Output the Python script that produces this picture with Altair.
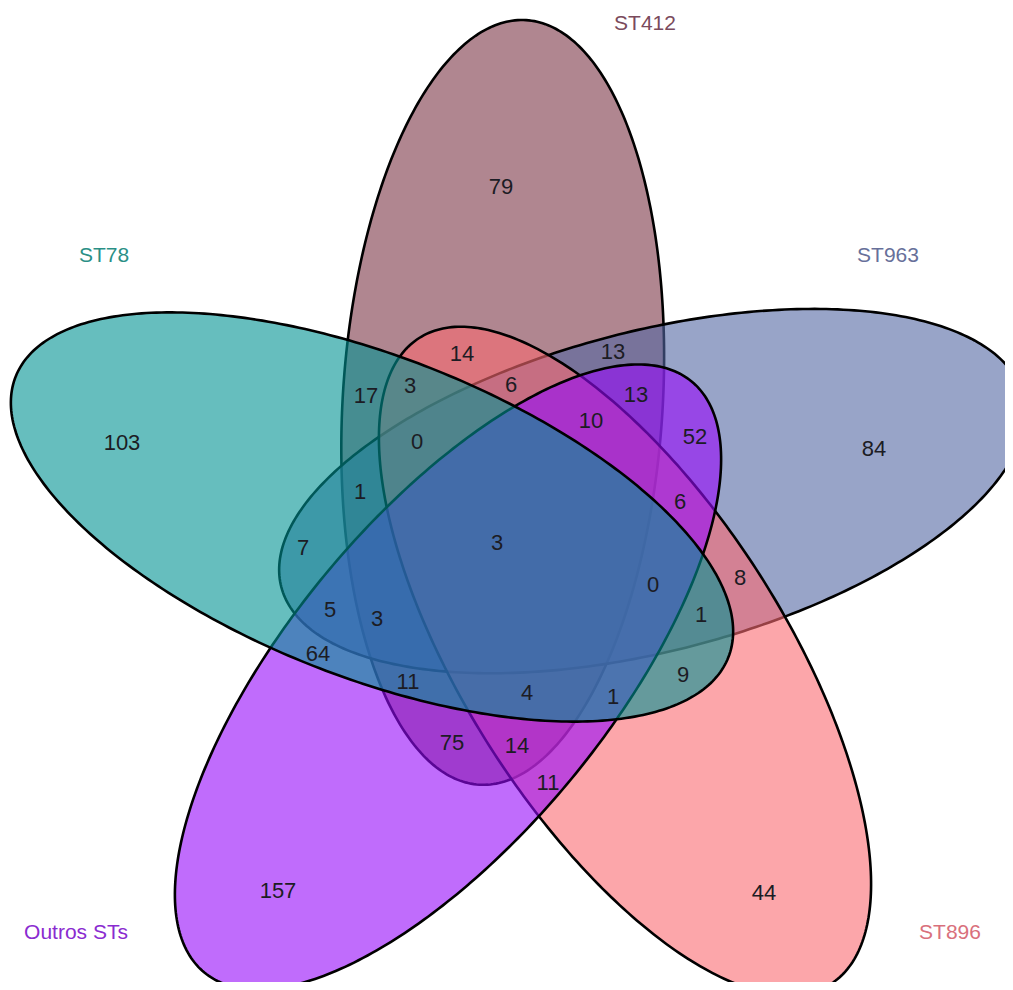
import numpy as np
import pandas as pd
import altair as alt

# ---- sets (in drawing order) ----
set_names = ["ST412", "ST963", "ST896", "Outros STs", "ST78"]
set_fill = ["#7B3546", "#5367A3", "#FA6B71", "#960AFA", "#009393"]
set_label_color = ["#7A4A5C", "#67709A", "#D9707C", "#8A2BD0", "#2A8F86"]
set_label_x = [645, 888, 950, 76, 104]
set_label_y = [24, 256, 933, 933, 256]

# ---- ellipse geometry (layout, in page pixels) ----
ell_cx = [502.7, 652.1, 625.0, 448.0, 372.0]
ell_cy = [402.4, 491.1, 661.0, 677.0, 517.0]
ell_angle = [86.5, 14.5, 122.5, 50.5, 158.5]
ell_a = 383.0
ell_b = 160.0

# ---- region counts and label positions ----
region_counts = [79, 103, 84, 157, 44, 13, 14, 17, 3, 6, 13, 10, 52, 0, 1, 6,
                 3, 7, 8, 0, 5, 3, 1, 64, 9, 11, 4, 1, 75, 14, 11]
region_x = [501, 122, 874, 278, 764, 613, 462, 366, 410, 511, 636, 591, 695, 417, 360, 680,
            497, 303, 740, 653, 330, 377, 701, 318, 683, 408, 527, 613, 452, 517, 548]
region_y = [187, 443, 449, 891, 893, 352, 354, 396, 386, 385, 395, 421, 437, 442, 492, 502,
            543, 548, 578, 585, 610, 619, 615, 654, 675, 682, 693, 697, 743, 746, 783]

# build ellipse polygons
t = np.linspace(0, 2 * np.pi, 361)
features = []
for i, name in enumerate(set_names):
    th = np.radians(ell_angle[i])
    xs = ell_cx[i] + ell_a * np.cos(t) * np.cos(th) - ell_b * np.sin(t) * np.sin(th)
    ys = ell_cy[i] - (ell_a * np.cos(t) * np.sin(th) + ell_b * np.sin(t) * np.cos(th))
    coords = [[float(x), float(y)] for x, y in zip(xs, ys)]
    features.append({
        "type": "Feature",
        "properties": {"name": name, "fill": set_fill[i]},
        "geometry": {"type": "Polygon", "coordinates": [coords]},
    })

proj = dict(type="identity", scale=1, translate=[-8, -8])

shapes = alt.Chart(alt.Data(values=features)).mark_geoshape(
    fillOpacity=0.6, stroke="black", strokeWidth=2.6
).encode(
    fill=alt.Fill("properties.fill:N", scale=None)
).project(**proj)

counts_df = pd.DataFrame({"x": region_x, "y": region_y, "n": [str(v) for v in region_counts]})
counts = alt.Chart(counts_df).mark_text(
    font="Liberation Sans", fontSize=22, color="#1c1c24", baseline="middle", align="center"
).encode(
    longitude="x:Q", latitude="y:Q", text="n:N"
).project(**proj)

labels_df = pd.DataFrame({"x": set_label_x, "y": set_label_y, "name": set_names, "col": set_label_color})
labels = alt.Chart(labels_df).mark_text(
    font="Liberation Sans", fontSize=21, baseline="middle", align="center"
).encode(
    longitude="x:Q", latitude="y:Q", text="name:N",
    color=alt.Color("col:N", scale=None)
).project(**proj)

chart = alt.layer(shapes, counts, labels).properties(
    width=997, height=974, padding=0, autosize="none"
).configure_view(stroke=None)

chart.save("out.html", embed_options={"renderer": "svg", "actions": False})
